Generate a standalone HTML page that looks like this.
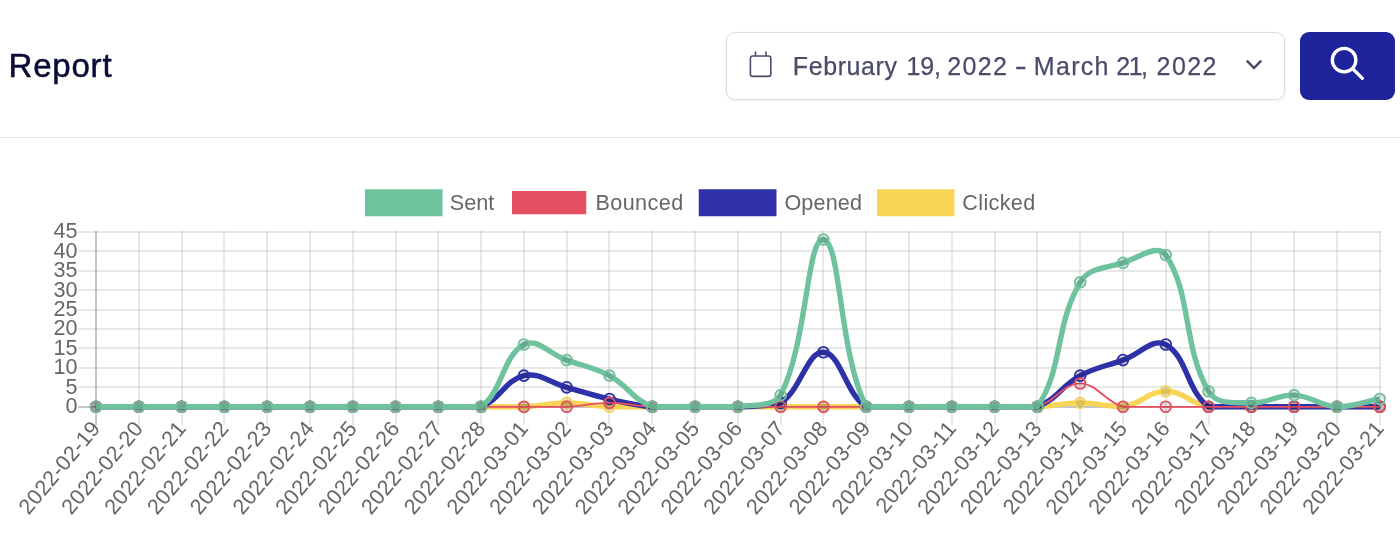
<!DOCTYPE html>
<html lang="en">
<head>
<meta charset="utf-8">
<title>Report</title>
<style>
*{box-sizing:border-box;margin:0;padding:0}
html,body{width:1400px;height:544px;overflow:hidden;background:#fff}
body{font-family:"Liberation Sans",Arial,sans-serif;position:relative}
.head{position:absolute;left:0;top:0;width:1400px;height:138px;border-bottom:1px solid #e2e2e6}
h1{position:absolute;left:8.5px;top:46px;font-size:33px;line-height:40px;font-weight:400;color:#0b0d36;letter-spacing:.8px;-webkit-text-stroke:.5px #0b0d36}
.picker{position:absolute;left:726px;top:32px;width:559px;height:68px;border:1px solid #dcdce0;border-radius:9px;background:#fff;box-shadow:0 1px 3px rgba(0,0,0,.06)}
.picker .cal{position:absolute;left:21px;top:17px}
.picker .txt{position:absolute;left:0;top:12.6px;font-size:25px;line-height:40px;color:#4b4c6a;white-space:nowrap;-webkit-text-stroke:.25px #4b4c6a}
.picker .txt span{position:absolute;top:0}
.picker .chev{position:absolute;left:514.9px;top:24.3px}
.btn{position:absolute;left:1300px;top:32px;width:95px;height:68px;border-radius:9px;background:#20249c}
.btn svg{position:absolute;left:0;top:0}
.chart{position:absolute;left:0;top:138px}
</style>
</head>
<body>
<div class="head">
<h1>Report</h1>
<div class="picker">
<svg class="cal" width="26" height="30" viewBox="0 0 26 30" fill="none" stroke="#4b4c6a" stroke-width="1.6" stroke-linecap="round" stroke-linejoin="round"><rect x="2.4" y="6" width="20.4" height="20.4" rx="2.2"/><path d="M7.5 2v4M18 2v4"/></svg>
<div class="txt"><span style="left:65.85px;letter-spacing:0.588px">February </span><span style="left:179.54px;letter-spacing:-0.212px">19, </span><span style="left:220.23px;letter-spacing:1.323px">2022 </span><span style="left:288.22px;transform-origin:0.78px 50%;transform:scaleX(1.431)">- </span><span style="left:306.85px;letter-spacing:1.300px">March </span><span style="left:389.33px;letter-spacing:-1.507px">21, </span><span style="left:429.53px;letter-spacing:1.457px">2022 </span></div>
<svg class="chev" width="24" height="16" viewBox="0 0 24 16" fill="none" stroke="#4a4b63" stroke-width="2.5" stroke-linecap="butt" stroke-linejoin="miter"><path d="M4.8 3.6l7.2 7.4 7.2-7.4"/></svg>
</div>
<div class="btn"><svg width="95" height="68" viewBox="0 0 95 68" fill="none" stroke="#fff" stroke-width="3.3" stroke-linecap="round"><circle cx="44.1" cy="28.1" r="11.8"/><path d="M52.5 36.5l9.9 9.8"/></svg></div>
</div>
<svg class="chart" width="1400" height="406" viewBox="0 0 1400 406">
<g stroke="rgba(0,0,0,0.09)" stroke-width="2" fill="none"><line x1="78" y1="94" x2="1381" y2="94"/><line x1="78" y1="113" x2="1381" y2="113"/><line x1="78" y1="133" x2="1381" y2="133"/><line x1="78" y1="152" x2="1381" y2="152"/><line x1="78" y1="172" x2="1381" y2="172"/><line x1="78" y1="191" x2="1381" y2="191"/><line x1="78" y1="210" x2="1381" y2="210"/><line x1="78" y1="230" x2="1381" y2="230"/><line x1="78" y1="249" x2="1381" y2="249"/><line x1="139" y1="93" x2="139" y2="287"/><line x1="182" y1="93" x2="182" y2="287"/><line x1="224" y1="93" x2="224" y2="287"/><line x1="267" y1="93" x2="267" y2="287"/><line x1="310" y1="93" x2="310" y2="287"/><line x1="353" y1="93" x2="353" y2="287"/><line x1="396" y1="93" x2="396" y2="287"/><line x1="438" y1="93" x2="438" y2="287"/><line x1="481" y1="93" x2="481" y2="287"/><line x1="524" y1="93" x2="524" y2="287"/><line x1="567" y1="93" x2="567" y2="287"/><line x1="609" y1="93" x2="609" y2="287"/><line x1="652" y1="93" x2="652" y2="287"/><line x1="695" y1="93" x2="695" y2="287"/><line x1="738" y1="93" x2="738" y2="287"/><line x1="781" y1="93" x2="781" y2="287"/><line x1="823" y1="93" x2="823" y2="287"/><line x1="866" y1="93" x2="866" y2="287"/><line x1="909" y1="93" x2="909" y2="287"/><line x1="952" y1="93" x2="952" y2="287"/><line x1="995" y1="93" x2="995" y2="287"/><line x1="1037" y1="93" x2="1037" y2="287"/><line x1="1080" y1="93" x2="1080" y2="287"/><line x1="1123" y1="93" x2="1123" y2="287"/><line x1="1166" y1="93" x2="1166" y2="287"/><line x1="1209" y1="93" x2="1209" y2="287"/><line x1="1251" y1="93" x2="1251" y2="287"/><line x1="1294" y1="93" x2="1294" y2="287"/><line x1="1337" y1="93" x2="1337" y2="287"/><line x1="1380" y1="93" x2="1380" y2="287"/></g>
<g stroke="rgba(0,0,0,0.225)" stroke-width="2" fill="none">
<line x1="96" y1="93" x2="96" y2="287"/>
<line x1="78" y1="269" x2="1381" y2="269"/>
</g>
<g font-family="'Liberation Sans', Arial, sans-serif" font-size="21.6" fill="#666">
<text x="77.5" y="275.3" text-anchor="end">0</text>
<text x="77.5" y="255.84" text-anchor="end">5</text>
<text x="77.5" y="236.39" text-anchor="end">10</text>
<text x="77.5" y="216.93" text-anchor="end">15</text>
<text x="77.5" y="197.48" text-anchor="end">20</text>
<text x="77.5" y="178.02" text-anchor="end">25</text>
<text x="77.5" y="158.57" text-anchor="end">30</text>
<text x="77.5" y="139.11" text-anchor="end">35</text>
<text x="77.5" y="119.66" text-anchor="end">40</text>
<text x="77.5" y="100.2" text-anchor="end">45</text>
<text text-anchor="end" letter-spacing="0.3" transform="translate(101.5 290.8) rotate(-50)">2022-02-19</text>
<text text-anchor="end" letter-spacing="0.3" transform="translate(144.29 290.8) rotate(-50)">2022-02-20</text>
<text text-anchor="end" letter-spacing="0.3" transform="translate(187.08 290.8) rotate(-50)">2022-02-21</text>
<text text-anchor="end" letter-spacing="0.3" transform="translate(229.87 290.8) rotate(-50)">2022-02-22</text>
<text text-anchor="end" letter-spacing="0.3" transform="translate(272.66 290.8) rotate(-50)">2022-02-23</text>
<text text-anchor="end" letter-spacing="0.3" transform="translate(315.45 290.8) rotate(-50)">2022-02-24</text>
<text text-anchor="end" letter-spacing="0.3" transform="translate(358.24 290.8) rotate(-50)">2022-02-25</text>
<text text-anchor="end" letter-spacing="0.3" transform="translate(401.03 290.8) rotate(-50)">2022-02-26</text>
<text text-anchor="end" letter-spacing="0.3" transform="translate(443.82 290.8) rotate(-50)">2022-02-27</text>
<text text-anchor="end" letter-spacing="0.3" transform="translate(486.61 290.8) rotate(-50)">2022-02-28</text>
<text text-anchor="end" letter-spacing="0.3" transform="translate(529.4 290.8) rotate(-50)">2022-03-01</text>
<text text-anchor="end" letter-spacing="0.3" transform="translate(572.19 290.8) rotate(-50)">2022-03-02</text>
<text text-anchor="end" letter-spacing="0.3" transform="translate(614.98 290.8) rotate(-50)">2022-03-03</text>
<text text-anchor="end" letter-spacing="0.3" transform="translate(657.77 290.8) rotate(-50)">2022-03-04</text>
<text text-anchor="end" letter-spacing="0.3" transform="translate(700.56 290.8) rotate(-50)">2022-03-05</text>
<text text-anchor="end" letter-spacing="0.3" transform="translate(743.35 290.8) rotate(-50)">2022-03-06</text>
<text text-anchor="end" letter-spacing="0.3" transform="translate(786.14 290.8) rotate(-50)">2022-03-07</text>
<text text-anchor="end" letter-spacing="0.3" transform="translate(828.93 290.8) rotate(-50)">2022-03-08</text>
<text text-anchor="end" letter-spacing="0.3" transform="translate(871.72 290.8) rotate(-50)">2022-03-09</text>
<text text-anchor="end" letter-spacing="0.3" transform="translate(914.51 290.8) rotate(-50)">2022-03-10</text>
<text text-anchor="end" letter-spacing="0.3" transform="translate(957.3 290.8) rotate(-50)">2022-03-11</text>
<text text-anchor="end" letter-spacing="0.3" transform="translate(1000.09 290.8) rotate(-50)">2022-03-12</text>
<text text-anchor="end" letter-spacing="0.3" transform="translate(1042.88 290.8) rotate(-50)">2022-03-13</text>
<text text-anchor="end" letter-spacing="0.3" transform="translate(1085.67 290.8) rotate(-50)">2022-03-14</text>
<text text-anchor="end" letter-spacing="0.3" transform="translate(1128.46 290.8) rotate(-50)">2022-03-15</text>
<text text-anchor="end" letter-spacing="0.3" transform="translate(1171.25 290.8) rotate(-50)">2022-03-16</text>
<text text-anchor="end" letter-spacing="0.3" transform="translate(1214.04 290.8) rotate(-50)">2022-03-17</text>
<text text-anchor="end" letter-spacing="0.3" transform="translate(1256.83 290.8) rotate(-50)">2022-03-18</text>
<text text-anchor="end" letter-spacing="0.3" transform="translate(1299.62 290.8) rotate(-50)">2022-03-19</text>
<text text-anchor="end" letter-spacing="0.3" transform="translate(1342.41 290.8) rotate(-50)">2022-03-20</text>
<text text-anchor="end" letter-spacing="0.3" transform="translate(1385.2 290.8) rotate(-50)">2022-03-21</text>
<rect x="365" y="51.25" width="77.5" height="27" fill="#6fc29e" stroke="none"/>
<text x="449.8" y="71.5" letter-spacing="0">Sent</text>
<rect x="512" y="53" width="74.25" height="23.25" fill="#e54f62" stroke="none"/>
<text x="595.5" y="71.5" letter-spacing="0.4">Bounced</text>
<rect x="698.75" y="51.25" width="77.75" height="27" fill="#2e31a8" stroke="none"/>
<text x="784.4" y="71.5" letter-spacing="0.15">Opened</text>
<rect x="877" y="51.25" width="77.5" height="27" fill="#f8d556" stroke="none"/>
<text x="962.3" y="71.5" letter-spacing="0.35">Clicked</text>
</g>
<g stroke="#f8d556">
<path d="M96 268.8C113.12 268.8 121.67 268.8 138.79 268.8C155.91 268.8 164.46 268.8 181.58 268.8C198.7 268.8 207.25 268.8 224.37 268.8C241.49 268.8 250.04 268.8 267.16 268.8C284.28 268.8 292.83 268.8 309.95 268.8C327.07 268.8 335.62 268.8 352.74 268.8C369.86 268.8 378.41 268.8 395.53 268.8C412.65 268.8 421.2 268.8 438.32 268.8C455.44 268.8 463.99 268.8 481.11 268.8C498.23 268.8 506.82 268.8 523.9 268.8C541.05 268.02 549.57 264.91 566.69 264.91C583.81 264.91 592.33 268.02 609.48 268.8C626.56 268.8 635.15 268.8 652.27 268.8C669.39 268.8 677.94 268.8 695.06 268.8C712.18 268.8 720.73 268.8 737.85 268.8C754.97 268.8 763.52 268.8 780.64 268.8C797.76 268.8 806.31 268.8 823.43 268.8C840.55 268.8 849.1 268.8 866.22 268.8C883.34 268.8 891.89 268.8 909.01 268.8C926.13 268.8 934.68 268.8 951.8 268.8C968.92 268.8 977.47 268.8 994.59 268.8C1011.71 268.8 1020.3 268.8 1037.38 268.8C1054.53 268.02 1063.05 264.91 1080.17 264.91C1097.29 264.91 1106.34 268.8 1122.96 268.8C1140.57 266.4 1148.63 253.24 1165.75 253.24C1182.87 253.24 1190.89 265.59 1208.54 268.8C1225.12 268.8 1234.21 268.8 1251.33 268.8C1268.45 268.8 1277 268.8 1294.12 268.8C1311.24 268.8 1319.79 268.8 1336.91 268.8C1354.03 268.8 1362.58 268.8 1379.7 268.8" fill="none" stroke-width="5.4" stroke-linecap="butt" stroke-linejoin="miter"/>
<g fill="rgba(0,0,0,0.1)" stroke-width="1.8"><circle cx="96" cy="268.8" r="5.4"/><circle cx="138.79" cy="268.8" r="5.4"/><circle cx="181.58" cy="268.8" r="5.4"/><circle cx="224.37" cy="268.8" r="5.4"/><circle cx="267.16" cy="268.8" r="5.4"/><circle cx="309.95" cy="268.8" r="5.4"/><circle cx="352.74" cy="268.8" r="5.4"/><circle cx="395.53" cy="268.8" r="5.4"/><circle cx="438.32" cy="268.8" r="5.4"/><circle cx="481.11" cy="268.8" r="5.4"/><circle cx="523.9" cy="268.8" r="5.4"/><circle cx="566.69" cy="264.91" r="5.4"/><circle cx="609.48" cy="268.8" r="5.4"/><circle cx="652.27" cy="268.8" r="5.4"/><circle cx="695.06" cy="268.8" r="5.4"/><circle cx="737.85" cy="268.8" r="5.4"/><circle cx="780.64" cy="268.8" r="5.4"/><circle cx="823.43" cy="268.8" r="5.4"/><circle cx="866.22" cy="268.8" r="5.4"/><circle cx="909.01" cy="268.8" r="5.4"/><circle cx="951.8" cy="268.8" r="5.4"/><circle cx="994.59" cy="268.8" r="5.4"/><circle cx="1037.38" cy="268.8" r="5.4"/><circle cx="1080.17" cy="264.91" r="5.4"/><circle cx="1122.96" cy="268.8" r="5.4"/><circle cx="1165.75" cy="253.24" r="5.4"/><circle cx="1208.54" cy="268.8" r="5.4"/><circle cx="1251.33" cy="268.8" r="5.4"/><circle cx="1294.12" cy="268.8" r="5.4"/><circle cx="1336.91" cy="268.8" r="5.4"/><circle cx="1379.7" cy="268.8" r="5.4"/></g>
</g>
<g stroke="#2e31a8">
<path d="M96 268.8C113.12 268.8 121.67 268.8 138.79 268.8C155.91 268.8 164.46 268.8 181.58 268.8C198.7 268.8 207.25 268.8 224.37 268.8C241.49 268.8 250.04 268.8 267.16 268.8C284.28 268.8 292.83 268.8 309.95 268.8C327.07 268.8 335.62 268.8 352.74 268.8C369.86 268.8 378.41 268.8 395.53 268.8C412.65 268.8 421.2 268.8 438.32 268.8C455.44 268.8 465.8 268.8 481.11 268.8C500.04 261.92 505.28 241.9 523.9 237.67C539.51 234.12 549.57 244.68 566.69 249.34C583.81 254.01 592.2 257.09 609.48 261.02C626.43 264.87 635.01 267.23 652.27 268.8C669.25 268.8 677.94 268.8 695.06 268.8C712.18 268.8 720.77 268.8 737.85 268.8C755 268.02 767.17 268.8 780.64 264.91C801.41 251.69 806.69 213.56 823.43 214.32C840.93 215.12 845.06 255.33 866.22 268.8C879.29 268.8 891.89 268.8 909.01 268.8C926.13 268.8 934.68 268.8 951.8 268.8C968.92 268.8 977.47 268.8 994.59 268.8C1011.71 268.8 1022.07 268.8 1037.38 268.8C1056.31 261.92 1061.77 247.71 1080.17 237.67C1096 229.03 1105.84 228.33 1122.96 222.11C1140.08 215.88 1152.88 199.52 1165.75 206.54C1187.11 218.2 1186.69 252.9 1208.54 268.8C1220.92 268.8 1234.21 268.8 1251.33 268.8C1268.45 268.8 1277 268.8 1294.12 268.8C1311.24 268.8 1319.79 268.8 1336.91 268.8C1354.03 268.8 1362.58 268.8 1379.7 268.8" fill="none" stroke-width="5.4" stroke-linecap="butt" stroke-linejoin="miter"/>
<g fill="rgba(0,0,0,0.1)" stroke-width="1.8"><circle cx="96" cy="268.8" r="5.4"/><circle cx="138.79" cy="268.8" r="5.4"/><circle cx="181.58" cy="268.8" r="5.4"/><circle cx="224.37" cy="268.8" r="5.4"/><circle cx="267.16" cy="268.8" r="5.4"/><circle cx="309.95" cy="268.8" r="5.4"/><circle cx="352.74" cy="268.8" r="5.4"/><circle cx="395.53" cy="268.8" r="5.4"/><circle cx="438.32" cy="268.8" r="5.4"/><circle cx="481.11" cy="268.8" r="5.4"/><circle cx="523.9" cy="237.67" r="5.4"/><circle cx="566.69" cy="249.34" r="5.4"/><circle cx="609.48" cy="261.02" r="5.4"/><circle cx="652.27" cy="268.8" r="5.4"/><circle cx="695.06" cy="268.8" r="5.4"/><circle cx="737.85" cy="268.8" r="5.4"/><circle cx="780.64" cy="264.91" r="5.4"/><circle cx="823.43" cy="214.32" r="5.4"/><circle cx="866.22" cy="268.8" r="5.4"/><circle cx="909.01" cy="268.8" r="5.4"/><circle cx="951.8" cy="268.8" r="5.4"/><circle cx="994.59" cy="268.8" r="5.4"/><circle cx="1037.38" cy="268.8" r="5.4"/><circle cx="1080.17" cy="237.67" r="5.4"/><circle cx="1122.96" cy="222.11" r="5.4"/><circle cx="1165.75" cy="206.54" r="5.4"/><circle cx="1208.54" cy="268.8" r="5.4"/><circle cx="1251.33" cy="268.8" r="5.4"/><circle cx="1294.12" cy="268.8" r="5.4"/><circle cx="1336.91" cy="268.8" r="5.4"/><circle cx="1379.7" cy="268.8" r="5.4"/></g>
</g>
<g stroke="#e54f62">
<path d="M96 268.8C113.12 268.8 121.67 268.8 138.79 268.8C155.91 268.8 164.46 268.8 181.58 268.8C198.7 268.8 207.25 268.8 224.37 268.8C241.49 268.8 250.04 268.8 267.16 268.8C284.28 268.8 292.83 268.8 309.95 268.8C327.07 268.8 335.62 268.8 352.74 268.8C369.86 268.8 378.41 268.8 395.53 268.8C412.65 268.8 421.2 268.8 438.32 268.8C455.44 268.8 463.99 268.8 481.11 268.8C498.23 268.8 506.78 268.8 523.9 268.8C541.02 268.8 549.61 268.8 566.69 268.8C583.84 268.02 592.36 264.91 609.48 264.91C626.6 264.91 635.12 268.02 652.27 268.8C669.35 268.8 677.94 268.8 695.06 268.8C712.18 268.8 720.73 268.8 737.85 268.8C754.97 268.8 763.52 268.8 780.64 268.8C797.76 268.8 806.31 268.8 823.43 268.8C840.55 268.8 849.1 268.8 866.22 268.8C883.34 268.8 891.89 268.8 909.01 268.8C926.13 268.8 934.68 268.8 951.8 268.8C968.92 268.8 977.47 268.8 994.59 268.8C1011.71 268.8 1021.38 268.8 1037.38 268.8C1055.61 263.83 1063.05 245.45 1080.17 245.45C1097.29 245.45 1104.73 263.83 1122.96 268.8C1138.96 268.8 1148.63 268.8 1165.75 268.8C1182.87 268.8 1191.42 268.8 1208.54 268.8C1225.66 268.8 1234.21 268.8 1251.33 268.8C1268.45 268.8 1277 268.8 1294.12 268.8C1311.24 268.8 1319.79 268.8 1336.91 268.8C1354.03 268.8 1362.58 268.8 1379.7 268.8" fill="none" stroke-width="1.8" stroke-linecap="butt" stroke-linejoin="miter"/>
<g fill="rgba(0,0,0,0.1)" stroke-width="1.8"><circle cx="96" cy="268.8" r="5.4"/><circle cx="138.79" cy="268.8" r="5.4"/><circle cx="181.58" cy="268.8" r="5.4"/><circle cx="224.37" cy="268.8" r="5.4"/><circle cx="267.16" cy="268.8" r="5.4"/><circle cx="309.95" cy="268.8" r="5.4"/><circle cx="352.74" cy="268.8" r="5.4"/><circle cx="395.53" cy="268.8" r="5.4"/><circle cx="438.32" cy="268.8" r="5.4"/><circle cx="481.11" cy="268.8" r="5.4"/><circle cx="523.9" cy="268.8" r="5.4"/><circle cx="566.69" cy="268.8" r="5.4"/><circle cx="609.48" cy="264.91" r="5.4"/><circle cx="652.27" cy="268.8" r="5.4"/><circle cx="695.06" cy="268.8" r="5.4"/><circle cx="737.85" cy="268.8" r="5.4"/><circle cx="780.64" cy="268.8" r="5.4"/><circle cx="823.43" cy="268.8" r="5.4"/><circle cx="866.22" cy="268.8" r="5.4"/><circle cx="909.01" cy="268.8" r="5.4"/><circle cx="951.8" cy="268.8" r="5.4"/><circle cx="994.59" cy="268.8" r="5.4"/><circle cx="1037.38" cy="268.8" r="5.4"/><circle cx="1080.17" cy="245.45" r="5.4"/><circle cx="1122.96" cy="268.8" r="5.4"/><circle cx="1165.75" cy="268.8" r="5.4"/><circle cx="1208.54" cy="268.8" r="5.4"/><circle cx="1251.33" cy="268.8" r="5.4"/><circle cx="1294.12" cy="268.8" r="5.4"/><circle cx="1336.91" cy="268.8" r="5.4"/><circle cx="1379.7" cy="268.8" r="5.4"/></g>
</g>
<g stroke="#6fc29e">
<path d="M96 268.8C113.12 268.8 121.67 268.8 138.79 268.8C155.91 268.8 164.46 268.8 181.58 268.8C198.7 268.8 207.25 268.8 224.37 268.8C241.49 268.8 250.04 268.8 267.16 268.8C284.28 268.8 292.83 268.8 309.95 268.8C327.07 268.8 335.62 268.8 352.74 268.8C369.86 268.8 378.41 268.8 395.53 268.8C412.65 268.8 421.2 268.8 438.32 268.8C455.44 268.8 468.73 268.8 481.11 268.8C502.96 252.9 502.54 218.2 523.9 206.54C536.77 199.52 549.57 215.88 566.69 222.11C583.81 228.33 593.65 229.03 609.48 237.67C627.88 247.71 633.34 261.92 652.27 268.8C667.58 268.8 677.94 268.8 695.06 268.8C712.18 268.8 721.04 268.8 737.85 268.8C755.27 266.42 773.26 268.8 780.64 257.13C807.49 204.63 806.89 99.23 823.43 101.48C841.12 103.9 838.79 215.16 866.22 268.8C873.02 268.8 891.89 268.8 909.01 268.8C926.13 268.8 934.68 268.8 951.8 268.8C968.92 268.8 977.47 268.8 994.59 268.8C1011.71 268.8 1028.98 268.8 1037.38 268.8C1063.22 231.21 1054.94 186.72 1080.17 144.28C1089.18 129.13 1105.18 130.49 1122.96 124.83C1139.41 119.59 1157.76 105.05 1165.75 117.05C1191.99 156.42 1182.42 208.11 1208.54 253.24C1216.65 267.26 1234.05 264.12 1251.33 264.91C1268.28 265.68 1277.17 256.36 1294.12 257.13C1311.4 257.91 1319.63 268.01 1336.91 268.8C1353.86 268.8 1362.58 264.13 1379.7 261.02" fill="none" stroke-width="5.4" stroke-linecap="butt" stroke-linejoin="miter"/>
<g fill="rgba(0,0,0,0.1)" stroke-width="1.8"><circle cx="96" cy="268.8" r="5.4"/><circle cx="138.79" cy="268.8" r="5.4"/><circle cx="181.58" cy="268.8" r="5.4"/><circle cx="224.37" cy="268.8" r="5.4"/><circle cx="267.16" cy="268.8" r="5.4"/><circle cx="309.95" cy="268.8" r="5.4"/><circle cx="352.74" cy="268.8" r="5.4"/><circle cx="395.53" cy="268.8" r="5.4"/><circle cx="438.32" cy="268.8" r="5.4"/><circle cx="481.11" cy="268.8" r="5.4"/><circle cx="523.9" cy="206.54" r="5.4"/><circle cx="566.69" cy="222.11" r="5.4"/><circle cx="609.48" cy="237.67" r="5.4"/><circle cx="652.27" cy="268.8" r="5.4"/><circle cx="695.06" cy="268.8" r="5.4"/><circle cx="737.85" cy="268.8" r="5.4"/><circle cx="780.64" cy="257.13" r="5.4"/><circle cx="823.43" cy="101.48" r="5.4"/><circle cx="866.22" cy="268.8" r="5.4"/><circle cx="909.01" cy="268.8" r="5.4"/><circle cx="951.8" cy="268.8" r="5.4"/><circle cx="994.59" cy="268.8" r="5.4"/><circle cx="1037.38" cy="268.8" r="5.4"/><circle cx="1080.17" cy="144.28" r="5.4"/><circle cx="1122.96" cy="124.83" r="5.4"/><circle cx="1165.75" cy="117.05" r="5.4"/><circle cx="1208.54" cy="253.24" r="5.4"/><circle cx="1251.33" cy="264.91" r="5.4"/><circle cx="1294.12" cy="257.13" r="5.4"/><circle cx="1336.91" cy="268.8" r="5.4"/><circle cx="1379.7" cy="261.02" r="5.4"/></g>
</g>
</svg>
</body>
</html>
